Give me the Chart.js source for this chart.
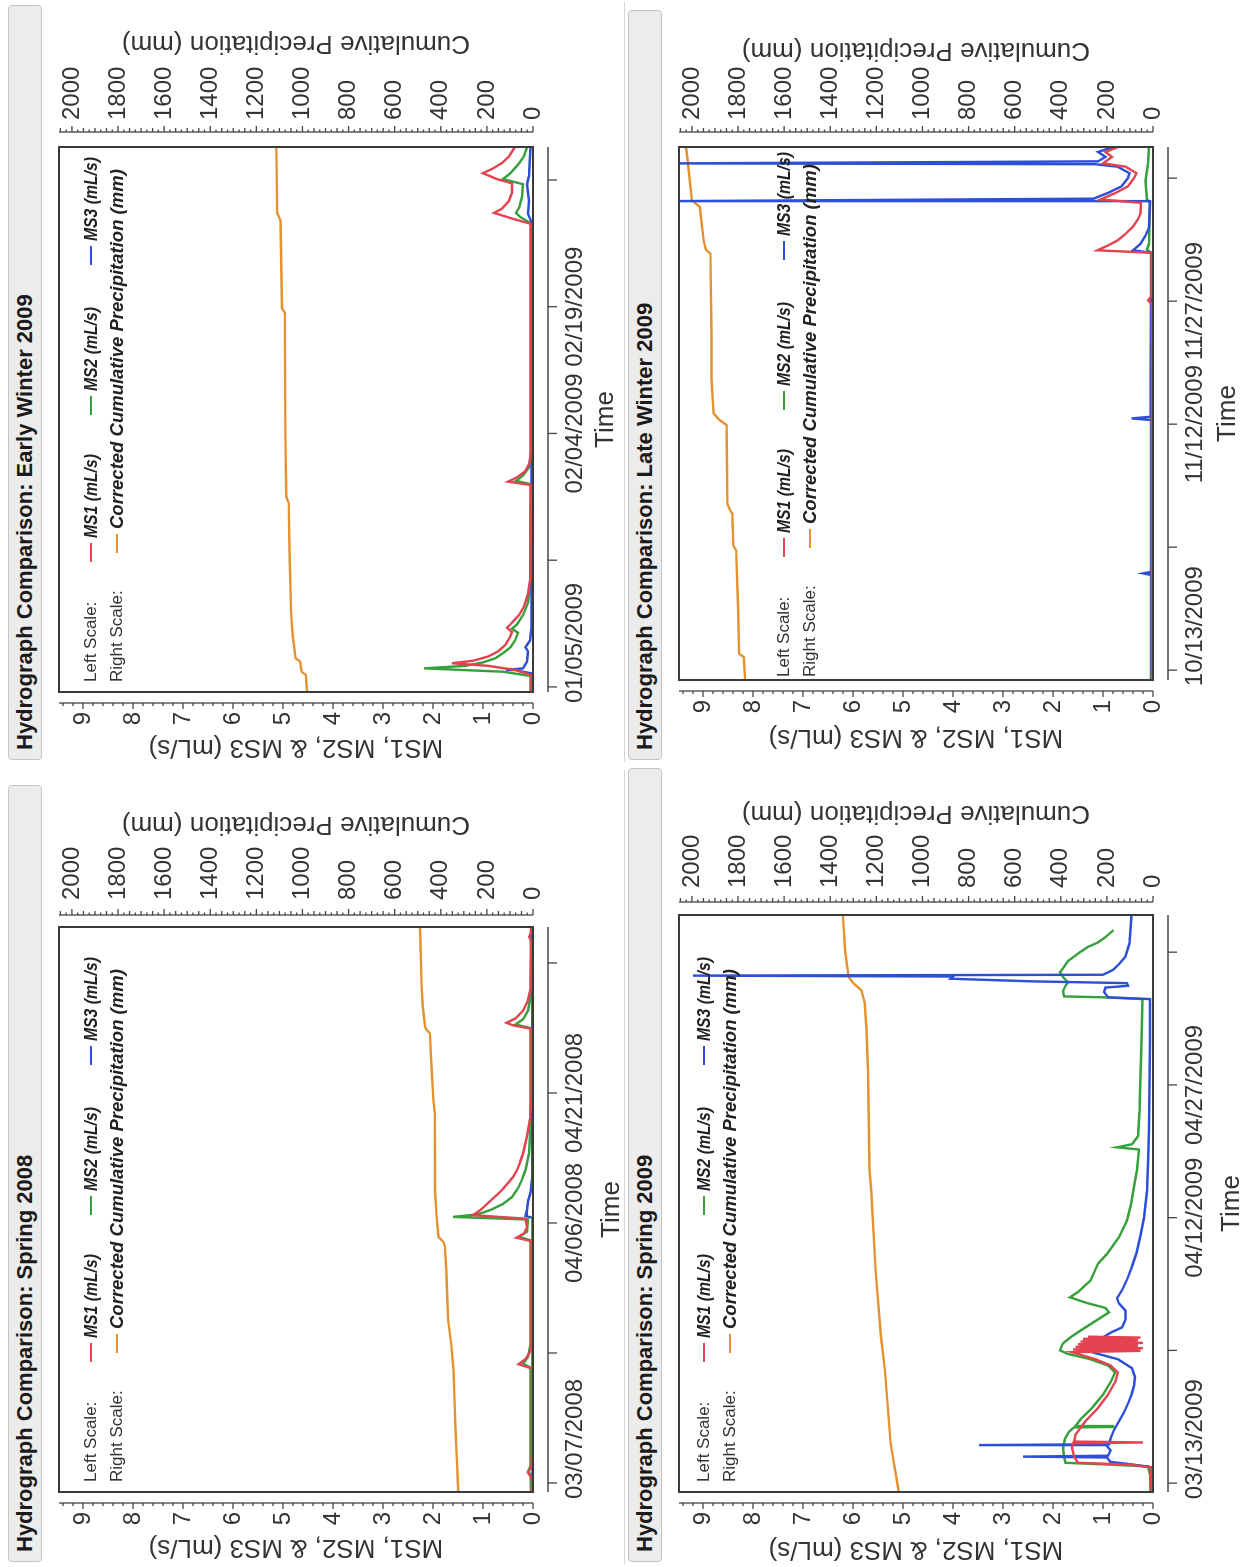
<!DOCTYPE html>
<html><head><meta charset="utf-8">
<script src="https://cdn.jsdelivr.net/npm/chart.js@4.4.1/dist/chart.umd.min.js"></script>
<style>
html,body{margin:0;padding:0;background:#fff;overflow:hidden;width:1247px;height:1567px;}
#fig{position:absolute;left:0;top:0;width:1567px;height:1247px;transform-origin:0 0;transform:translate(0px,1567px) rotate(-90deg);background:#fff;font-family:"Liberation Sans",Arial,sans-serif;}
.bar{position:absolute;height:34px;background:#ececec;border:1px solid #c4c4c4;border-radius:4px;font-weight:bold;font-size:22px;line-height:32px;padding-left:9px;box-sizing:border-box;color:#1a1a1a;white-space:nowrap;}
canvas{position:absolute;}
.lg{position:absolute;font-size:17px;color:#333;white-space:nowrap;line-height:20px;}
.lgi{position:absolute;font-weight:bold;font-style:italic;font-size:18.5px;color:#222;white-space:nowrap;line-height:20px;}
.r1{transform:scaleX(0.85);transform-origin:0 50%;}
.ln{position:absolute;height:2px;}
.sep{position:absolute;height:1px;background:#d6d6d6;}
</style></head><body>
<div id="fig"></div>
<script>
// ---------------- data ----------------
const PANEL_TITLES = ['Hydrograph Comparison: Spring 2008','Hydrograph Comparison: Early Winter 2009','Hydrograph Comparison: Spring 2009','Hydrograph Comparison: Late Winter 2009'];
const SERIES_LABELS = ['MS1 (mL/s)','MS2 (mL/s)','MS3 (mL/s)','Corrected Cumulative Precipitation (mm)'];
const LEFT_AXIS_TITLE = 'MS1, MS2, & MS3 (mL/s)';
const RIGHT_AXIS_TITLE = 'Cumulative Precipitation (mm)';
const TIME_AXIS_TITLE = 'Time';
const LEFT_TICKS = [0,1,2,3,4,5,6,7,8,9];
const RIGHT_TICKS = [0,200,400,600,800,1000,1200,1400,1600,1800,2000];
const TIME_TICK_DAYS = [0,15,30,45,60];
const A_TIME_LABELS = ['03/07/2008','04/06/2008','04/21/2008'];
const B_TIME_LABELS = ['01/05/2009','02/04/2009','02/19/2009'];
const C_TIME_LABELS = ['03/13/2009','04/12/2009','04/27/2009'];
const D_TIME_LABELS = ['10/13/2009','11/12/2009','11/27/2009'];

// [day since first time tick, value]
const A_MS1 = [[-1.04,0.02],[0.5,0.02],[1.2,0.1],[1.8,0.04],[3,0.02],[13.2,0.02],[13.7,0.29],[14.3,0.15],[15,0.07],[16,0.03],[27.9,0.03],[28.3,0.33],[28.8,0.18],[29.5,0.12],[30.5,0.15],[30.9,1.2],[31.5,1.05],[32.3,0.9],[33.1,0.75],[33.8,0.62],[34.6,0.5],[35.3,0.4],[36.1,0.32],[37,0.26],[38,0.2],[40,0.12],[42,0.06],[45,0.03],[52.4,0.03],[52.8,0.4],[53.1,0.53],[53.6,0.35],[54.5,0.2],[55.7,0.1],[57,0.05],[62.5,0.03],[63,0.08],[63.5,0.04],[64.15,0.03]];
const A_MS2 = [[-1.04,0.04],[1.0,0.05],[1.3,0.1],[2,0.05],[13.3,0.05],[13.8,0.2],[14.5,0.1],[16,0.05],[28.0,0.05],[28.4,0.28],[29,0.12],[30.4,0.1],[30.7,1.6],[31.0,1.1],[31.5,0.85],[32.2,0.6],[33,0.42],[34,0.3],[35,0.22],[36.1,0.15],[38,0.08],[41,0.05],[52.5,0.05],[52.9,0.35],[53.5,0.2],[54.5,0.1],[56,0.05],[64.15,0.04]];
const A_MS3 = [[-1.04,0.01],[30.6,0.01],[30.8,0.15],[31.5,0.12],[32.5,0.1],[33.5,0.05],[35,0.02],[64.15,0.01]];
const A_PRECIP = [[-1.04,324],[2.7,330],[6.2,336],[9.2,340],[13.1,345],[16.1,355],[18.8,368],[21.5,372],[24.6,376],[27.3,382],[27.8,388],[28.4,410],[30.7,418],[33.8,425],[36.1,425],[42.7,426],[44.2,432],[48,440],[51.9,447],[52.3,462],[52.6,468],[55,478],[57.3,483],[64.15,490]];

const B_MS1 = [[-0.6,0.03],[1.4,0.03],[2.0,0.35],[2.5,0.9],[2.8,1.62],[3.1,1.2],[3.6,0.9],[4.2,0.7],[5,0.55],[6,0.45],[6.5,0.42],[7.0,0.52],[7.6,0.42],[8.5,0.28],[9.5,0.18],[11,0.1],[13,0.05],[23.9,0.04],[24.3,0.5],[24.8,0.32],[25.5,0.16],[26.5,0.07],[28,0.04],[54.8,0.04],[55.4,0.4],[56.1,0.78],[56.6,0.62],[57.5,0.48],[58.5,0.42],[59.6,0.42],[60.1,0.72],[60.8,1.0],[61.3,0.82],[62,0.62],[62.8,0.48],[63.9,0.36]];
const B_MS2 = [[-0.6,0.05],[1.3,0.05],[1.8,0.6],[2.2,2.18],[2.5,1.35],[2.9,1.0],[3.4,0.75],[4.0,0.6],[4.7,0.45],[5.5,0.36],[6.4,0.3],[6.9,0.42],[7.4,0.32],[8.5,0.2],[10,0.1],[12,0.06],[24.0,0.05],[24.4,0.34],[25,0.2],[26,0.08],[27,0.05],[54.9,0.05],[55.6,0.25],[56.1,0.34],[56.8,0.27],[58,0.22],[59.5,0.2],[60.1,0.6],[60.8,0.45],[61.8,0.3],[62.8,0.18],[63.9,0.12]];
const B_MS3 = [[-0.6,0.02],[1.6,0.02],[1.9,0.3],[2.0,0.54],[2.2,0.2],[3,0.12],[4.2,0.1],[4.7,0.15],[5.5,0.06],[7,0.03],[55,0.03],[56,0.1],[57.5,0.08],[59.5,0.12],[60.5,0.08],[63.9,0.05]];
const B_PRECIP = [[-0.6,980],[1.4,985],[1.8,1004],[3.0,1010],[3.4,1030],[6,1042],[8.7,1049],[15,1055],[21.8,1060],[22.5,1070],[30,1074],[36,1075],[44.3,1077],[44.8,1089],[50,1092],[55.2,1095],[56.1,1110],[63.9,1113]];

const C_MS1 = [[-1.0,0.03],[1.8,0.04],[2.1,0.5],[2.3,1.5],[3,1.58],[4,1.62],[4.5,1.6],[4.6,0.2],[4.7,1.58],[5.5,1.55],[7,1.35],[8.5,1.1],[10,0.9],[11.5,0.75],[12.5,0.7],[13.3,0.85],[14.0,1.15],[14.6,1.5],[14.8,1.62],[14.95,0.25],[15.1,1.6],[15.25,0.2],[15.4,1.55],[15.55,0.3],[15.7,1.5],[15.85,0.2],[16.0,1.45],[16.15,0.3],[16.3,1.4],[16.45,0.25],[16.55,1.3]];
const C_MS2 = [[-1.0,0.05],[1.0,0.06],[1.9,0.1],[2.1,0.9],[2.3,1.75],[3,1.78],[4,1.8],[5,1.76],[5.8,1.68],[6.3,1.58],[6.35,0.8],[6.45,1.55],[7.2,1.45],[8.5,1.22],[10,1.0],[11.5,0.84],[12.5,0.76],[13.3,0.9],[14.0,1.25],[14.6,1.7],[15.0,1.86],[15.8,1.8],[16.6,1.62],[17.5,1.38],[18.5,1.1],[19.3,0.88],[19.8,0.95],[20.4,1.35],[21.0,1.66],[21.6,1.5],[22.9,1.25],[24.8,1.1],[25.9,0.92],[27.8,0.68],[29.7,0.52],[31.5,0.44],[33.5,0.38],[35.4,0.32],[37.7,0.28],[37.95,0.72],[38.3,0.42],[39.2,0.3],[42,0.27],[46,0.25],[50,0.23],[54.7,0.21],[54.9,1.0],[55.0,1.78],[55.6,1.8],[56.2,1.75],[56.6,1.7],[57.2,1.8],[57.7,1.86],[59.0,1.7],[60.0,1.46],[60.6,1.3],[61.1,1.1],[61.7,0.95],[62.5,0.79]];
const C_MS3 = [[-1.0,0.02],[1.8,0.03],[2.1,0.4],[2.4,0.85],[2.9,0.92],[3.0,2.6],[3.1,0.9],[3.7,0.85],[4.2,0.92],[4.3,3.48],[4.4,0.88],[5,0.85],[6,0.78],[7,0.68],[8,0.58],[9,0.5],[10,0.43],[11,0.38],[12,0.36],[13,0.42],[14.0,0.7],[14.8,1.22],[15.3,0.95],[15.7,1.2],[16.3,1.05],[17.0,0.85],[17.6,0.62],[18.5,0.55],[19.5,0.55],[20.3,0.68],[20.9,0.72],[21.8,0.62],[23,0.52],[24.5,0.42],[26,0.33],[28,0.25],[30,0.18],[33,0.12],[36,0.1],[40,0.08],[45,0.07],[50,0.06],[54.7,0.06],[54.9,0.9],[55.5,0.98],[56.0,0.95],[56.2,0.5],[56.5,0.52],[56.7,2.4],[57.0,4.05],[57.25,4.0],[57.35,9.2],[57.45,1.0],[58,0.8],[58.7,0.67],[59.5,0.55],[61,0.47],[64.2,0.43]];
const C_PRECIP = [[-1.0,1103],[4.5,1138],[12.8,1163],[16.5,1180],[24,1203],[33,1222],[35.4,1230],[46.7,1236],[51.2,1243],[54.2,1250],[55.7,1265],[56.5,1300],[57.2,1320],[60,1335],[64.2,1345]];

const D_MS1 = [[-1.2,0.02],[44.6,0.02],[45.1,0.1],[45.6,0.03],[50.9,0.03],[51.2,1.11],[51.8,0.9],[52.4,0.71],[53.2,0.55],[54.1,0.4],[55,0.3],[55.7,0.25],[57.0,0.24],[57.4,1.05],[58.2,0.75],[59.0,0.5],[60.0,0.38],[60.6,0.33],[61.4,0.55],[61.8,1.0],[62.6,0.82],[63.2,0.95],[63.8,0.7]];
const D_MS2 = [[-1.2,0.04],[50.9,0.04],[51.3,0.12],[52,0.08],[57,0.06],[57.4,0.12],[59.7,0.15],[61.8,0.1],[63.8,0.08]];
const D_MS3 = [[-1.2,0.03],[11.6,0.03],[11.8,0.2],[12.0,0.03],[30.5,0.03],[30.7,0.43],[30.9,0.05],[50.9,0.03],[51.2,0.4],[52,0.25],[53,0.15],[54,0.08],[57.1,0.06],[57.2,9.6],[57.5,1.19],[58.2,0.9],[59.0,0.63],[60.0,0.5],[60.6,0.47],[61.4,0.71],[61.7,1.15],[61.8,9.6],[62.05,1.1],[62.6,0.95],[63.2,1.1],[63.8,0.79]];
const D_PRECIP = [[-1.2,1769],[1.6,1775],[2.0,1795],[8,1800],[14.6,1808],[15.2,1820],[19.1,1825],[19.5,1835],[20.3,1846],[25,1848],[29.9,1850],[30.5,1880],[31.3,1906],[35.4,1915],[41,1915],[50.8,1920],[51.3,1940],[52.4,1949],[56.5,1966],[57.3,2000],[61.8,2017],[63.8,2026]];

// ---------------- styles / layout ----------------
const RED='#e2434f', GREEN='#36a03a', BLUE='#2d4ed6', ORANGE='#e3922f';
const FONT = '"Liberation Sans", Arial, sans-serif';
Chart.defaults.font.family = FONT;
Chart.defaults.color = '#333';

const PANELS = [
  {key:'A', title:PANEL_TITLES[0], cx:0, cy:0, w:800, h:625, box:{l:75,r:640,t:59,b:533}, xmin:-1.04, xmax:64.15, ltPad:7, timePad:0, rOff:12, rtX:743, labels:A_TIME_LABELS, ms1:A_MS1, ms2:A_MS2, ms3:A_MS3, pr:A_PRECIP, bar:{x:5,y:8,w:777}, lg:{x:0,y:91}},
  {key:'B', title:PANEL_TITLES[1], cx:800, cy:0, w:767, h:625, box:{l:75,r:620,t:59,b:533}, xmin:-0.6, xmax:63.9, ltPad:7, timePad:6, rOff:15, rtX:724, labels:B_TIME_LABELS, ms1:B_MS1, ms2:B_MS2, ms3:B_MS3, pr:B_PRECIP, bar:{x:807,y:8,w:755}, lg:{x:800,y:91}},
  {key:'C', title:PANEL_TITLES[2], cx:0, cy:625, w:800, h:622, box:{l:75,r:652,t:54,b:528}, xmin:-1.0, xmax:64.2, ltPad:5, timePad:2, rOff:13, rtX:754, labels:C_TIME_LABELS, ms1:C_MS1, ms2:C_MS2, ms3:C_MS3, pr:C_PRECIP, bar:{x:5,y:628,w:794}, lg:{x:0,y:704}},
  {key:'D', title:PANEL_TITLES[3], cx:800, cy:625, w:767, h:622, box:{l:87,r:620,t:54,b:528}, xmin:-1.2, xmax:63.8, ltPad:17, timePad:6, rOff:15, rtX:717, labels:D_TIME_LABELS, ms1:D_MS1, ms2:D_MS2, ms3:D_MS3, pr:D_PRECIP, bar:{x:807,y:628,w:750}, lg:{x:805,y:784}}
];

const fig = document.getElementById('fig');
function add(tag, cls, css, text){ const e=document.createElement(tag); if(cls) e.className=cls; Object.assign(e.style, css); if(text!==undefined) e.textContent=text; fig.appendChild(e); return e; }

// separators under top row
add('div','sep',{left:'3px',top:'624px',width:'794px'});
add('div','sep',{left:'805px',top:'624px',width:'760px'});

function axesPlugin(p){
  return {
    id:'hydroAxes'+p.key,
    afterDatasetsDraw(chart){
      const {ctx, chartArea:ca} = chart;
      ctx.save(); ctx.strokeStyle='#3a3a3a'; ctx.lineWidth=2;
      ctx.strokeRect(ca.left, ca.top, ca.right-ca.left, ca.bottom-ca.top);
      ctx.restore();
    },
    afterDraw(chart){
      const {ctx, chartArea:ca} = chart; const sx=chart.scales.x, sy=chart.scales.y, sy2=chart.scales.y2;
      ctx.save(); ctx.strokeStyle='#444'; ctx.lineWidth=1.3;
      const seg=(a,b,c,d)=>{ctx.beginPath();ctx.moveTo(a,b);ctx.lineTo(c,d);ctx.stroke();};
      const lx = ca.left-11;
      seg(lx, ca.top, lx, ca.bottom);
      for(let k=0;k*0.2<=sy.max+1e-9;k++){ const py=sy.getPixelForValue(k*0.2); seg(lx,py,lx-(k%5===0?6:3),py); }
      const rx = ca.right+p.rOff;
      seg(rx, ca.top, rx, ca.bottom);
      for(let k=0;k*25<=sy2.max;k++){ const py=sy2.getPixelForValue(k*25); const len=k%8===0?6:(k%2===0?4:2.5); seg(rx,py,rx+len,py); }
      const ty = ca.bottom+15;
      seg(ca.left, ty, ca.right, ty);
      TIME_TICK_DAYS.forEach(d=>{ const px=sx.getPixelForValue(d); seg(px,ty,px,ty+9); });
      ctx.fillStyle='#333'; ctx.font='26px '+FONT; ctx.textAlign='center'; ctx.textBaseline='middle';
      ctx.translate(p.rtX,(ca.top+ca.bottom)/2); ctx.rotate(-Math.PI/2);
      ctx.fillText(RIGHT_AXIS_TITLE,0,0);
      ctx.restore();
    }
  };
}

function makePanel(p){
  add('div','bar',{left:p.bar.x+'px',top:p.bar.y+'px',width:p.bar.w+'px'},p.title);
  const cv = add('canvas',null,{left:p.cx+'px',top:p.cy+'px'});
  cv.width=p.w; cv.height=p.h;
  const pxPerDay=(p.box.r-p.box.l)/(p.xmax-p.xmin);
  const labelDays=[44/pxPerDay, 30, 45];
  const pts = arr => arr.map(([x,y])=>({x,y}));
  const ds = (data,color,axis)=>({data:pts(data),borderColor:color,backgroundColor:color,borderWidth:2.4,pointRadius:0,tension:0,fill:false,yAxisID:axis});
  new Chart(cv.getContext('2d'),{
    type:'line',
    data:{datasets:[ds(p.ms1,RED,'y'),ds(p.ms3,BLUE,'y'),ds(p.ms2,GREEN,'y'),ds(p.pr,ORANGE,'y2')]},
    options:{
      responsive:false, animation:false, devicePixelRatio:1,
      layout:{padding:{top:p.box.t,left:0,right:0,bottom:0}},
      plugins:{legend:{display:false},tooltip:{enabled:false}},
      scales:{
        x:{type:'linear',min:p.xmin,max:p.xmax,grid:{display:false,drawTicks:false},border:{display:false},
           afterBuildTicks:s=>{s.ticks=labelDays.map(v=>({value:v}));},
           ticks:{autoSkip:false,maxRotation:0,minRotation:0,padding:27.6,font:{size:24},color:'#333',callback:(v,i)=>p.labels[i]},
           title:{display:true,text:TIME_AXIS_TITLE,font:{size:26,lineHeight:1},color:'#333',padding:{top:0,bottom:p.timePad}},
           afterFit:s=>{s.height=p.h-p.box.b;}},
        y:{position:'left',min:0,max:9.48,grid:{display:false,drawTicks:false},border:{display:false},
           afterBuildTicks:s=>{s.ticks=LEFT_TICKS.map(v=>({value:v}));},
           ticks:{padding:20,font:{size:24},color:'#333',callback:v=>String(v)},
           title:{display:true,text:LEFT_AXIS_TITLE,font:{size:26,lineHeight:1},color:'#333',padding:{top:p.ltPad,bottom:0}},
           afterFit:s=>{s.width=p.box.l;}},
        y2:{position:'right',min:0,max:2056,grid:{display:false,drawTicks:false},border:{display:false},
           afterBuildTicks:s=>{s.ticks=RIGHT_TICKS.map(v=>({value:v}));},
           ticks:{padding:27,font:{size:24},color:'#333',callback:v=>String(v)},
           afterFit:s=>{s.width=p.w-p.box.r;}}
      }
    },
    plugins:[axesPlugin(p)]
  });
  // legend
  const ox=p.lg.x, r1=p.lg.y, r2=p.lg.y+26;
  add('span','lg',{left:(ox+85)+'px',top:(r1-10)+'px'},'Left Scale:');
  add('span','lg',{left:(ox+85)+'px',top:(r2-10)+'px'},'Right Scale:');
  const items=[[205,RED,SERIES_LABELS[0]],[352,GREEN,SERIES_LABELS[1]],[502,BLUE,SERIES_LABELS[2]]];
  items.forEach(([x,c,t])=>{ add('div','ln',{left:(ox+x)+'px',top:(r1-1)+'px',width:'19px',background:c}); add('span','lgi r1',{left:(ox+x+24)+'px',top:(r1-10)+'px'},t); });
  add('div','ln',{left:(ox+214)+'px',top:(r2-1)+'px',width:'19px',background:ORANGE});
  add('span','lgi',{left:(ox+238)+'px',top:(r2-10)+'px'},SERIES_LABELS[3]);
}
PANELS.forEach(makePanel);
</script></body></html>
